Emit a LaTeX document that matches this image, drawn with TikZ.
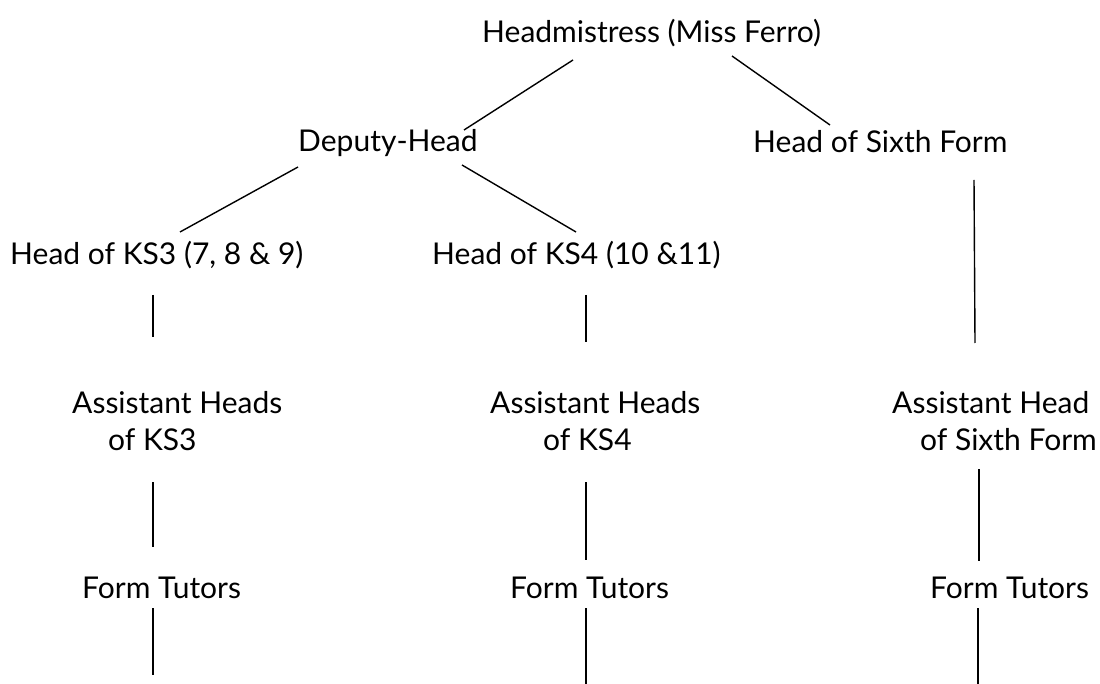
\documentclass[tikz,border=0pt]{standalone}
\usepackage{fontspec}
\setmainfont{Lato}
\begin{document}
\begin{tikzpicture}[x=1pt,y=-1pt,
  lbl/.style={inner sep=0pt, font=\fontsize{30}{37}\selectfont, align=left, anchor=base west},
  conn/.style={line width=1.4pt, black}]
\useasboundingbox (0,0) rectangle (1100,684);
% nodes (two-line nodes are anchored at the baseline of their last line)
\node[lbl] (hm)  at (482,43)  {Headmistress (Miss Ferro)};
\node[lbl] (dh)  at (298,152) {Deputy-Head};
\node[lbl] (hsf) at (753,153) {Head of Sixth Form};
\node[lbl] (ks3) at (10,265)  {Head of KS3 (7, 8 \& 9)};
\node[lbl] (ks4) at (432,265) {Head of KS4 (10 \&11)};
\node[lbl] (a3)  at (72,450)  {Assistant Heads\\\hspace*{36pt}of KS3};
\node[lbl] (a4)  at (490,450) {Assistant Heads\\\hspace*{53pt}of KS4};
\node[lbl] (a6)  at (892,450) {Assistant Head\\\hspace*{28pt}of Sixth Form};
\node[lbl] (f3)  at (82,598)  {Form Tutors};
\node[lbl] (f4)  at (510,598) {Form Tutors};
\node[lbl] (f6)  at (930,598) {Form Tutors};
% connector ends
\coordinate (hm-l) at (573,60);   \coordinate (dh-t) at (464,130);
\coordinate (hm-r) at (732,56);   \coordinate (hsf-t) at (830,125);
\coordinate (dh-l) at (298,167);  \coordinate (ks3-t) at (180,232);
\coordinate (dh-r) at (462,165);  \coordinate (ks4-t) at (576,232);
\coordinate (ks3-b) at (153,295); \coordinate (a3-t) at (153,337);
\coordinate (ks4-b) at (586,295); \coordinate (a4-t) at (586,342);
\coordinate (hsf-b) at (974,180); \coordinate (a6-t) at (975,343);
\coordinate (a3-b) at (153,482);  \coordinate (f3-t) at (153,547);
\coordinate (a4-b) at (586,482);  \coordinate (f4-t) at (586,560);
\coordinate (a6-b) at (979,469);  \coordinate (f6-t) at (979,561);
\coordinate (f3-b) at (153,608);  \coordinate (f3-e) at (153,675);
\coordinate (f4-b) at (586,608);  \coordinate (f4-e) at (586,684);
\coordinate (f6-b) at (978,608);  \coordinate (f6-e) at (978,684);
% connectors
\draw[conn] (hm-l) -- (dh-t);
\draw[conn] (hm-r) -- (hsf-t);
\draw[conn] (dh-l) -- (ks3-t);
\draw[conn] (dh-r) -- (ks4-t);
\draw[conn] (ks3-b) -- (a3-t);
\draw[conn] (ks4-b) -- (a4-t);
\draw[conn] (hsf-b) -- (a6-t);
\draw[conn] (a3-b) -- (f3-t);
\draw[conn] (a4-b) -- (f4-t);
\draw[conn] (a6-b) -- (f6-t);
\draw[conn] (f3-b) -- (f3-e);
\draw[conn] (f4-b) -- (f4-e);
\draw[conn] (f6-b) -- (f6-e);
\end{tikzpicture}
\end{document}
